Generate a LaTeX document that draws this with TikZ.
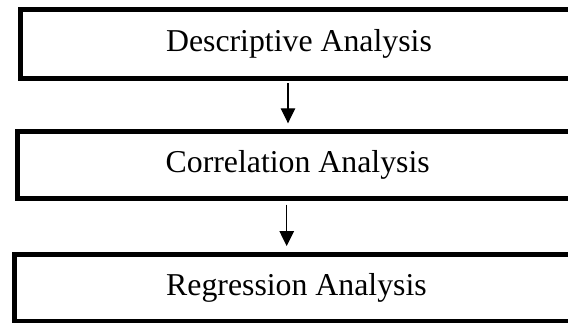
\documentclass[tikz,border=0pt]{standalone}
\usepackage{fontspec}
\setmainfont{Liberation Serif}
\usepackage{tikz}
\usetikzlibrary{arrows.meta, positioning}

\begin{document}
\begin{tikzpicture}[x=1pt, y=1pt,
    stage/.style={draw, line width=5pt, inner sep=0pt, align=center,
                  font=\fontsize{31.8}{36}\selectfont},
    flow/.style={-{Triangle[length=15pt, width=14.5pt]}, line width=1.2pt}]
  \useasboundingbox (0,0) rectangle (568,322);
  \clip (0,0) rectangle (568,322);
  % Analysis stages
  \node[stage, minimum width=557pt, minimum height=69pt]
       (descr) at (299,277.7) {Descriptive Analysis};
  \node[stage, minimum width=559.7pt, minimum height=66.4pt]
       (corr) at (297.7,157) {Correlation Analysis};
  \node[stage, minimum width=564pt, minimum height=67.3pt]
       (regr) at (296.5,33.8) {Regression Analysis};
  % Flow between stages
  \draw[flow, shorten <=2pt, shorten >=6pt]
       ([xshift=-11pt]descr.south) -- ([xshift=-11pt]descr.south |- corr.north);
  \draw[flow, shorten <=4pt, shorten >=6pt]
       ([xshift=-11pt]corr.south) -- ([xshift=-11pt]corr.south |- regr.north);
\end{tikzpicture}
\end{document}
